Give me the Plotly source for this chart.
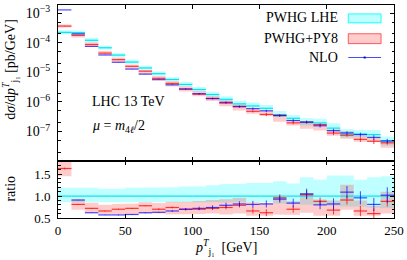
import plotly.graph_objects as go

# ---------------- data ----------------
bin_edges = [0, 10, 20, 30, 40, 50, 60, 70, 80, 90, 100, 110, 120, 130,
             140, 150, 160, 170, 180, 190, 200, 210, 220, 230, 240, 250]

# PWHG LHE central value [pb/GeV]
lhe_central = [2.26e-4, 2.21e-4, 1.22e-4, 6.8e-5, 3.85e-5, 2.23e-5, 1.41e-5,
               9.0e-6, 5.75e-6, 3.9e-6, 2.63e-6, 1.78e-6, 1.23e-6, 8.6e-7,
               7.3e-7, 6.1e-7, 3.7e-7, 2.8e-7, 2.0e-7, 1.95e-7, 1.3e-7,
               8.2e-8, 8.2e-8, 7.8e-8, 4.7e-8]
# all other quantities as ratio to PWHG LHE central
lhe_lo_ratio = [0.86, 0.86, 0.86, 0.86, 0.86, 0.86, 0.86, 0.86, 0.86, 0.86,
                0.86, 0.86, 0.86, 0.86, 0.86, 0.86, 0.83, 0.82, 0.80, 0.80,
                0.78, 0.76, 0.76, 0.74, 0.72]
lhe_hi_ratio = [1.19, 1.19, 1.19, 1.17, 1.17, 1.19, 1.19, 1.20, 1.20, 1.22,
                1.22, 1.25, 1.27, 1.28, 1.30, 1.30, 1.34, 1.29, 1.43, 1.37,
                1.47, 1.47, 1.37, 1.43, 1.45]
py8_ratio = [1.63, 0.81, 0.72, 0.66, 0.70, 0.72, 0.78, 0.70, 0.74, 0.70,
             0.70, 0.72, 0.74, 0.79, 0.66, 0.62, 0.96, 0.70, 1.03, 0.88,
             0.68, 0.91, 0.66, 0.60, 0.88]
py8_lo_ratio = [1.45, 0.69, 0.62, 0.58, 0.58, 0.58, 0.60, 0.60, 0.58, 0.58,
                0.59, 0.60, 0.58, 0.60, 0.55, 0.55, 0.58, 0.57, 0.62, 0.55,
                0.55, 0.69, 0.55, 0.55, 0.60]
py8_hi_ratio = [1.85, 0.93, 0.85, 0.80, 0.82, 0.83, 0.86, 0.84, 0.87, 0.87,
                0.89, 0.91, 0.93, 0.96, 0.86, 0.84, 0.98, 0.88, 1.07, 0.92,
                0.90, 1.26, 0.90, 0.78, 1.10]
py8_err_ratio = [0.02, 0.01, 0.01, 0.01, 0.01, 0.01, 0.01, 0.02, 0.02, 0.02,
                 0.02, 0.03, 0.04, 0.05, 0.06, 0.08, 0.08, 0.08, 0.10, 0.09,
                 0.10, 0.10, 0.12, 0.12, 0.12]
nlo_ratio = [5.75, 0.91, 0.62, 0.57, 0.57, 0.58, 0.62, 0.63, 0.66, 0.70,
             0.72, 0.74, 0.79, 0.82, 0.81, 0.82, 0.93, 0.84, 1.05, 0.80,
             0.82, 1.09, 0.96, 0.81, 1.02]
nlo_err_ratio = [0.01, 0.005, 0.005, 0.005, 0.01, 0.01, 0.01, 0.01, 0.02, 0.03,
                 0.04, 0.05, 0.06, 0.06, 0.08, 0.08, 0.08, 0.10, 0.12, 0.10,
                 0.13, 0.14, 0.15, 0.15, 0.18]

main_tickvals = [1e-7, 1e-6, 1e-5, 1e-4, 1e-3]
main_ticktext = ["10<sup>−7</sup>", "10<sup>−6</sup>", "10<sup>−5</sup>",
                 "10<sup>−4</sup>", "10<sup>−3</sup>"]
ratio_tickvals = [0.5, 1.0, 1.5]
ratio_ticktext = ["0.5", "1.0", "1.5"]

# ---------------- styles ----------------
FONT = "Liberation Serif"
CYAN_FILL = "rgba(0,255,255,0.25)"
PINK_FILL = "rgba(255,0,0,0.20)"
CYAN_LINE = "#00e5ee"
RED_LINE = "rgba(255,0,0,0.75)"
BLUE_LINE = "rgba(0,0,255,0.7)"

centers = [(a + b) / 2 for a, b in zip(bin_edges[:-1], bin_edges[1:])]
n = len(centers)
ones = [1.0] * n

def mul(a, b):
    return [x * y for x, y in zip(a, b)]

# absolute values for the main panel
lhe_lo = mul(lhe_central, lhe_lo_ratio)
lhe_hi = mul(lhe_central, lhe_hi_ratio)
py8 = mul(lhe_central, py8_ratio)
py8_lo = mul(lhe_central, py8_lo_ratio)
py8_hi = mul(lhe_central, py8_hi_ratio)
py8_err = mul(lhe_central, py8_err_ratio)
nlo = mul(lhe_central, nlo_ratio)
nlo_err = mul(lhe_central, nlo_err_ratio)

def step_xy(vals):
    xs, ys = [], []
    for i, v in enumerate(vals):
        xs += [bin_edges[i], bin_edges[i + 1]]
        ys += [v, v]
    return xs, ys

def seg_xy(vals):
    xs, ys = [], []
    for i, v in enumerate(vals):
        xs += [bin_edges[i], bin_edges[i + 1], None]
        ys += [v, v, None]
    return xs, ys

fig = go.Figure()

def add_band(lo, hi, color, xa, ya):
    x1, y1 = step_xy(lo)
    x2, y2 = step_xy(hi)
    fig.add_trace(go.Scatter(x=x1 + x2[::-1], y=y1 + y2[::-1], fill="toself",
                             fillcolor=color, line=dict(width=0), mode="lines",
                             hoverinfo="skip", showlegend=False, xaxis=xa, yaxis=ya))

def add_seg(vals, color, xa, ya, width=1.2):
    xs, ys = seg_xy(vals)
    fig.add_trace(go.Scatter(x=xs, y=ys, mode="lines", line=dict(color=color, width=width),
                             hoverinfo="skip", showlegend=False, xaxis=xa, yaxis=ya))

def add_err(vals, errs, color, xa, ya):
    fig.add_trace(go.Scatter(x=centers, y=vals, mode="markers",
                             marker=dict(size=0.1, color=color),
                             error_y=dict(type="data", array=errs, color=color,
                                          thickness=1, width=0),
                             hoverinfo="skip", showlegend=False, xaxis=xa, yaxis=ya))

# main panel (x2, y2)
add_band(lhe_lo, lhe_hi, CYAN_FILL, "x2", "y2")
add_band(py8_lo, py8_hi, PINK_FILL, "x2", "y2")
add_seg(lhe_central, CYAN_LINE, "x2", "y2")
add_seg(py8, RED_LINE, "x2", "y2")
add_err(py8, py8_err, RED_LINE, "x2", "y2")
add_seg(nlo, BLUE_LINE, "x2", "y2")
add_err(nlo, nlo_err, BLUE_LINE, "x2", "y2")

# ratio panel (x, y)
add_band(lhe_lo_ratio, lhe_hi_ratio, CYAN_FILL, "x", "y")
add_band(py8_lo_ratio, py8_hi_ratio, PINK_FILL, "x", "y")
add_seg(ones, CYAN_LINE, "x", "y")
add_seg(py8_ratio, RED_LINE, "x", "y")
add_err(py8_ratio, py8_err_ratio, RED_LINE, "x", "y")
add_seg(nlo_ratio, BLUE_LINE, "x", "y")
add_err(nlo_ratio, nlo_err_ratio, BLUE_LINE, "x", "y")

# ---------------- layout ----------------
W, H = 407, 260
L, R, T, B = 58, 11, 3, 42
pw, ph = W - L - R, H - T - B
split_px = 160.5
split = (H - B - split_px) / ph

def px(xp):
    return (xp - L) / pw

def py(yp):
    return (H - B - yp) / ph

axis_common = dict(showline=True, linecolor="black", linewidth=1, mirror="allticks",
                   ticks="inside", tickcolor="black", showgrid=False, zeroline=False)

minor_main = []
for d in [1e-8, 1e-7, 1e-6, 1e-5, 1e-4, 1e-3]:
    minor_main += [2 * d, 5 * d]

tick_font = dict(family=FONT, size=13, color="black")

fig.update_layout(
    width=W, height=H, autosize=False,
    margin=dict(l=L, r=R, t=T, b=B),
    paper_bgcolor="white", plot_bgcolor="white",
    font=dict(family=FONT, size=13, color="black"),
    showlegend=False,
    xaxis=dict(domain=[0, 1], anchor="y", range=[0, 250], tickmode="linear",
               tick0=0, dtick=50, ticklen=4, tickfont=tick_font, **axis_common),
    yaxis=dict(domain=[0, split], anchor="x", range=[0.5, 1.8],
               tickvals=ratio_tickvals, ticktext=ratio_ticktext, ticklen=4,
               ticklabelstandoff=4, tickfont=tick_font,
               minor=dict(ticks="inside", dtick=0.1, tick0=0.5, ticklen=2.5,
                          tickcolor="black"),
               **axis_common),
    xaxis2=dict(domain=[0, 1], anchor="y2", matches="x", range=[0, 250],
                tickmode="linear", tick0=0, dtick=50, ticklen=4,
                showticklabels=False, **axis_common),
    yaxis2=dict(domain=[split, 1], anchor="x2", type="log", range=[-8, -2.72],
                tickvals=main_tickvals, ticktext=main_ticktext, ticklen=4,
                ticklabelstandoff=4,
                tickfont=dict(family=FONT, size=14, color="black"),
                minor=dict(ticks="inside", tickvals=minor_main, ticklen=2.5,
                           tickcolor="black"),
                **axis_common),
)

ann_font = dict(family=FONT, size=14, color="black")
annotations = [
    dict(text="<i>p</i><sup><i>T</i></sup><sub>j₁</sub>  [GeV]", x=px(227), y=py(247),
         xref="paper", yref="paper", xanchor="center", yanchor="middle",
         showarrow=False, font=ann_font),
    dict(text="d<i>σ</i>/d<i>p</i><sup><i>T</i></sup><sub>j₁</sub> [pb/GeV]",
         x=px(10), y=py(68), xref="paper", yref="paper", xanchor="center",
         yanchor="middle", textangle=-90, showarrow=False, font=ann_font),
    dict(text="ratio", x=px(10), y=py(188), xref="paper", yref="paper",
         xanchor="center", yanchor="middle", textangle=-90, showarrow=False,
         font=ann_font),
    dict(text="LHC 13 TeV", x=px(90), y=py(100), xref="paper", yref="paper",
         xanchor="left", yanchor="middle", showarrow=False, font=ann_font),
    dict(text="<i>μ</i> = <i>m</i><sub>4<i>ℓ</i></sub>/2", x=px(90), y=py(126),
         xref="paper", yref="paper", xanchor="left", yanchor="middle",
         showarrow=False, font=ann_font),
    dict(text="PWHG LHE", x=px(342), y=py(16), xref="paper", yref="paper",
         xanchor="right", yanchor="middle", showarrow=False, font=ann_font),
    dict(text="PWHG+PY8", x=px(342), y=py(37), xref="paper", yref="paper",
         xanchor="right", yanchor="middle", showarrow=False, font=ann_font),
    dict(text="NLO", x=px(342), y=py(56), xref="paper", yref="paper",
         xanchor="right", yanchor="middle", showarrow=False, font=ann_font),
]
fig.update_layout(annotations=annotations)

shapes = [
    dict(type="rect", xref="paper", yref="paper", x0=px(350), x1=px(383),
         y0=py(21), y1=py(12), fillcolor="rgba(0,255,255,0.25)",
         line=dict(color="rgba(0,255,255,0.9)", width=1)),
    dict(type="rect", xref="paper", yref="paper", x0=px(350), x1=px(383),
         y0=py(42), y1=py(32), fillcolor="rgba(255,0,0,0.2)",
         line=dict(color="rgba(255,0,0,0.6)", width=1)),
    dict(type="line", xref="paper", yref="paper", x0=px(350), x1=px(383),
         y0=py(56), y1=py(56), line=dict(color=BLUE_LINE, width=1.2)),
    dict(type="line", xref="paper", yref="paper", x0=px(366.5), x1=px(366.5),
         y0=py(55), y1=py(57), line=dict(color="blue", width=2)),
]
fig.update_layout(shapes=shapes)

fig.write_html("out.html", config={"displayModeBar": False},
               post_script="document.body.style.margin='0px';document.body.style.padding='0px';")
